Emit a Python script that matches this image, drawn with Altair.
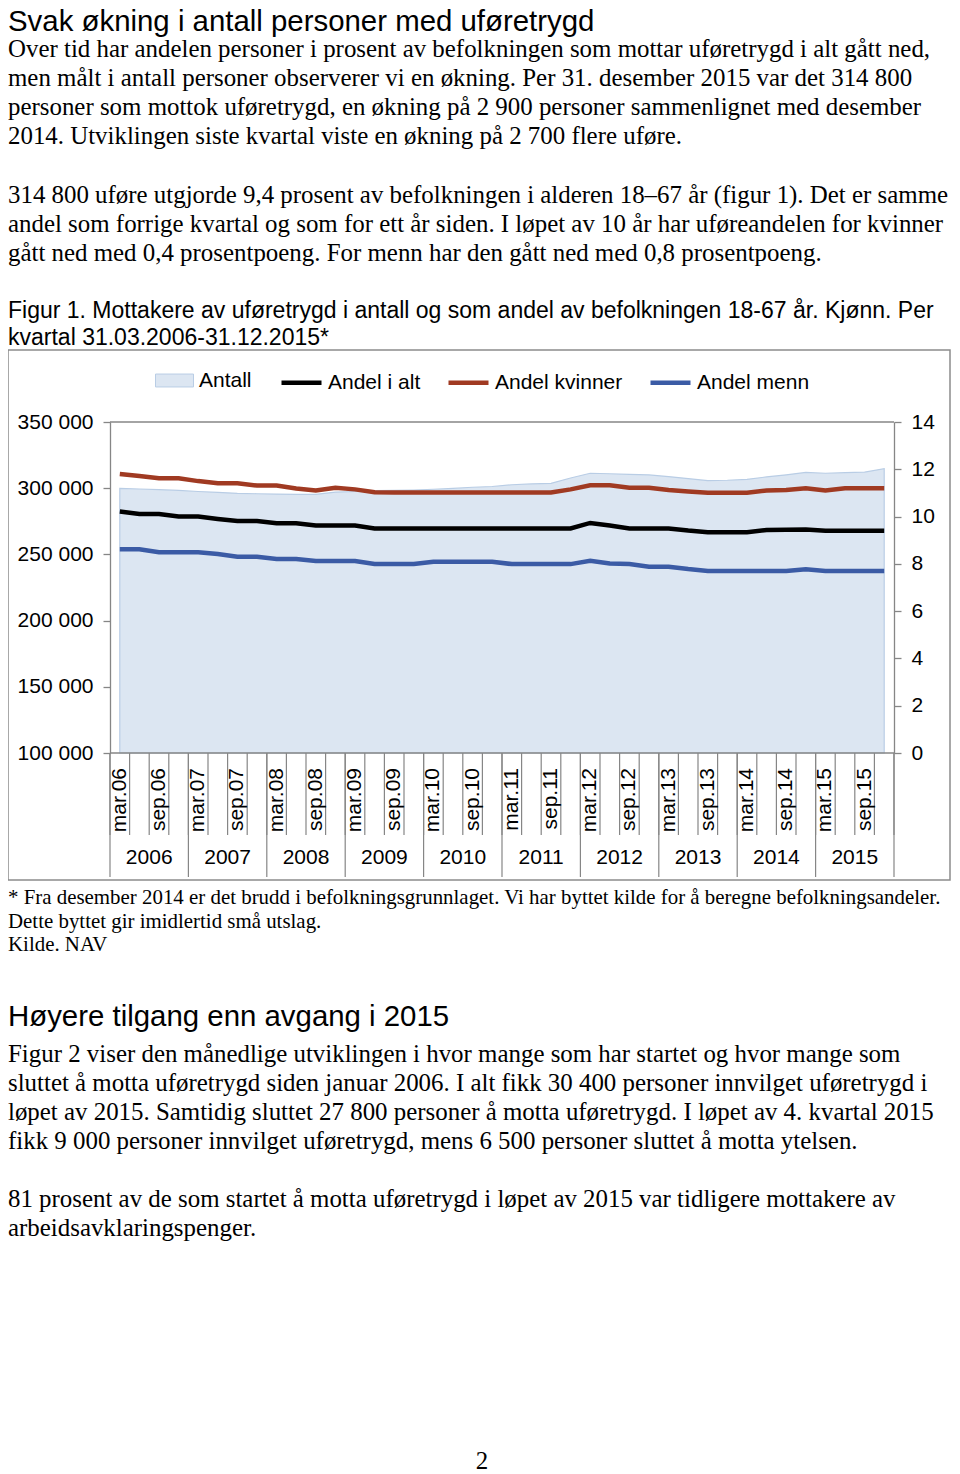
import altair as alt
import pandas as pd

# ---------------- data ----------------
years = ["2006", "2007", "2008", "2009", "2010", "2011", "2012", "2013", "2014", "2015"]
months = ["mar", "jun", "sep", "des"]
quarters = [f"{m}.{y[2:]}" for y in years for m in months]

antall = [299900, 299400, 298900, 298300, 297500, 296900, 296100, 295800, 295600, 295400,
          295400, 297100, 297500, 298100, 298300, 298600, 299200, 299800, 300700, 301300,
          302600, 303200, 303700, 307700, 311300, 310900, 310500, 310000, 308800, 307300,
          305700, 306000, 306700, 308500, 310100, 311900, 311300, 311700, 312100, 314800]

andel_alt = [10.21, 10.11, 10.11, 10.00, 10.00, 9.90, 9.81, 9.81, 9.72, 9.72,
             9.62, 9.62, 9.62, 9.50, 9.50, 9.50, 9.50, 9.50, 9.50, 9.50,
             9.50, 9.50, 9.50, 9.50, 9.73, 9.62, 9.50, 9.50, 9.50, 9.41,
             9.34, 9.34, 9.34, 9.43, 9.44, 9.45, 9.40, 9.40, 9.40, 9.40]

andel_kvinner = [11.80, 11.72, 11.62, 11.62, 11.50, 11.41, 11.41, 11.31, 11.31, 11.19,
                 11.10, 11.22, 11.15, 11.03, 11.02, 11.02, 11.02, 11.02, 11.02, 11.02,
                 11.02, 11.02, 11.02, 11.15, 11.32, 11.32, 11.22, 11.22, 11.12, 11.06,
                 11.01, 11.01, 11.01, 11.10, 11.12, 11.20, 11.10, 11.20, 11.20, 11.20]

andel_menn = [8.62, 8.62, 8.49, 8.49, 8.49, 8.42, 8.30, 8.30, 8.21, 8.21,
              8.12, 8.12, 8.12, 7.99, 7.99, 7.99, 8.09, 8.09, 8.09, 8.09,
              7.99, 7.99, 7.99, 7.99, 8.13, 8.02, 7.99, 7.88, 7.88, 7.78,
              7.70, 7.70, 7.70, 7.70, 7.70, 7.77, 7.70, 7.70, 7.70, 7.70]

series_names = ["Andel i alt", "Andel kvinner", "Andel menn"]
series_colors = ["#000000", "#a03a22", "#3b5ba5"]
left_ticks = [100000, 150000, 200000, 250000, 300000, 350000]
right_ticks = [0, 2, 4, 6, 8, 10, 12, 14]

# ---------------- texts ----------------
title1 = "Svak økning i antall personer med uføretrygd"
para1 = [
    "Over tid har andelen personer i prosent av befolkningen som mottar uføretrygd i alt gått ned,",
    "men målt i antall personer observerer vi en økning. Per 31. desember 2015 var det 314 800",
    "personer som mottok uføretrygd, en økning på 2 900 personer sammenlignet med desember",
    "2014. Utviklingen siste kvartal viste en økning på 2 700 flere uføre.",
]
para2 = [
    "314 800 uføre utgjorde 9,4 prosent av befolkningen i alderen 18–67 år (figur 1). Det er samme",
    "andel som forrige kvartal og som for ett år siden. I løpet av 10 år har uføreandelen for kvinner",
    "gått ned med 0,4 prosentpoeng. For menn har den gått ned med 0,8 prosentpoeng.",
]
caption = [
    "Figur 1. Mottakere av uføretrygd i antall og som andel av befolkningen 18-67 år. Kjønn. Per",
    "kvartal 31.03.2006-31.12.2015*",
]
footnote = [
    "* Fra desember 2014 er det brudd i befolkningsgrunnlaget. Vi har byttet kilde for å beregne befolkningsandeler.",
    "Dette byttet gir imidlertid små utslag.",
    "Kilde. NAV",
]
title2 = "Høyere tilgang enn avgang i 2015"
para3 = [
    "Figur 2 viser den månedlige utviklingen i hvor mange som har startet og hvor mange som",
    "sluttet å motta uføretrygd siden januar 2006. I alt fikk 30 400 personer innvilget uføretrygd i",
    "løpet av 2015. Samtidig sluttet 27 800 personer å motta uføretrygd. I løpet av 4. kvartal 2015",
    "fikk 9 000 personer innvilget uføretrygd, mens 6 500 personer sluttet å motta ytelsen.",
]
para4 = [
    "81 prosent av de som startet å motta uføretrygd i løpet av 2015 var tidligere mottakere av",
    "arbeidsavklaringspenger.",
]
page_no = "2"

# ---------------- tables ----------------
n = len(quarters)
df_area = pd.DataFrame({"q": list(range(n)), "antall": antall, "serie": ["Antall"] * n})
df_lines = pd.concat([
    pd.DataFrame({"q": list(range(n)), "verdi": vals, "serie": [name] * n})
    for name, vals in zip(series_names, [andel_alt, andel_kvinner, andel_menn])
])
boundaries = [k - 0.5 for k in range(n + 1)]
df_bound = pd.DataFrame({"b": boundaries})
df_ybound = pd.DataFrame({"b": boundaries[::4]})
df_qlab = pd.DataFrame({"q": [i for i in range(n) if months[i % 4] in ("mar", "sep")],
                        "lab": [quarters[i] for i in range(n) if months[i % 4] in ("mar", "sep")]})
df_ylab = pd.DataFrame({"c": [4 * j + 1.5 for j in range(len(years))], "lab": years})
df_frame = pd.DataFrame({"x0": [-0.5, -0.5], "x1": [n - 0.5, n - 0.5],
                         "yv": [left_ticks[0], left_ticks[-1]]})
dummy = pd.DataFrame({"k": [0]})

# ---------------- styling ----------------
SANS = "Liberation Sans"
SERIF = "Liberation Serif"
GRAY = "#868686"
W, H = 944, 1466
BODY = 24.9

XS = alt.Scale(domain=[-0.5, n - 0.5], range=[102, 886], nice=False, zero=False)
YL = alt.Scale(domain=[100000, 350000], range=[745, 414], nice=False, zero=False)
YR = alt.Scale(domain=[0, 14], range=[745, 414], nice=False, zero=False)


def text_block(lines, y, size, font, lh=None, x=0, align="left"):
    kw = dict(text=lines, align=align, baseline="alphabetic", font=font,
              fontSize=size, color="black")
    if lh is not None:
        kw["lineHeight"] = lh
    return alt.Chart(dummy).mark_text(**kw).encode(x=alt.value(x), y=alt.value(y))


box = alt.Chart(dummy).mark_rect(fill="white", fillOpacity=0, stroke="#8c8c8c",
                                 strokeWidth=1.5).encode(
    x=alt.value(0), x2=alt.value(942), y=alt.value(342), y2=alt.value(872))

area = alt.Chart(df_area).mark_area(stroke="#b9cde5", strokeWidth=1.2).encode(
    x=alt.X("q:Q", scale=XS, axis=None),
    y=alt.Y("antall:Q", scale=YL, stack=False,
            axis=alt.Axis(orient="left", offset=-102, values=left_ticks, title=None,
                          grid=False, domainColor=GRAY, tickColor=GRAY, domainWidth=1.3,
                          tickWidth=1.3, tickSize=7, labelPadding=10, labelFont=SANS,
                          labelFontSize=21, labelColor="black",
                          labelExpr="replace(format(datum.value, ','), ',', ' ')")),
    y2=alt.datum(100000),
    fill=alt.Fill("serie:N", scale=alt.Scale(domain=["Antall"], range=["#dce6f2"]),
                  legend=alt.Legend(orient="none", legendX=147, legendY=353,
                                    direction="horizontal", title=None, padding=0,
                                    symbolType="M-1,-0.34L1,-0.34L1,0.34L-1,0.34Z",
                                    symbolSize=1444, symbolStrokeColor="#b9cde5",
                                    symbolStrokeWidth=1, labelFont=SANS, labelFontSize=21,
                                    labelColor="black", labelOffset=5)),
)

frame = alt.Chart(df_frame).mark_rule(color=GRAY, strokeWidth=1.3).encode(
    x=alt.X("x0:Q", scale=XS, axis=None), x2="x1:Q",
    y=alt.Y("yv:Q", scale=YL, axis=None))

bticks = alt.Chart(df_bound).mark_rule(color=GRAY, strokeWidth=1.2).encode(
    x=alt.X("b:Q", scale=XS, axis=None), y=alt.value(745), y2=alt.value(827))
yticks = alt.Chart(df_ybound).mark_rule(color=GRAY, strokeWidth=1.2).encode(
    x=alt.X("b:Q", scale=XS, axis=None), y=alt.value(745), y2=alt.value(869))

lines = alt.Chart(df_lines).mark_line(strokeWidth=4.5).encode(
    x=alt.X("q:Q", scale=XS, axis=None),
    y=alt.Y("verdi:Q", scale=YR,
            axis=alt.Axis(orient="right", offset=886 - W, values=right_ticks, title=None,
                          grid=False, domainColor=GRAY, tickColor=GRAY, domainWidth=1.3,
                          tickWidth=1.3, tickSize=7, labelPadding=10, labelFont=SANS,
                          labelFontSize=21, labelColor="black", format="d")),
    stroke=alt.Stroke("serie:N", scale=alt.Scale(domain=series_names, range=series_colors),
                      legend=alt.Legend(orient="none", legendX=271, legendY=352,
                                        direction="horizontal", title=None, padding=0,
                                        symbolType="stroke", symbolSize=1600,
                                        symbolStrokeWidth=4.5, columnPadding=18,
                                        labelFont=SANS, labelFontSize=21,
                                        labelColor="black", labelOffset=4)),
)

qlabels = alt.Chart(df_qlab).mark_text(angle=270, align="right", baseline="middle",
                                       font=SANS, fontSize=21, color="black").encode(
    x=alt.X("q:Q", scale=XS, axis=None), y=alt.value(760), text="lab:N")
ylabels = alt.Chart(df_ylab).mark_text(align="center", baseline="middle",
                                       font=SANS, fontSize=21, color="black").encode(
    x=alt.X("c:Q", scale=XS, axis=None), y=alt.value(850), text="lab:N")

texts = [
    text_block([title1], 23, 29.4, SANS),
    text_block(para1, 49, BODY, SERIF, 29),
    text_block(para2, 195, BODY, SERIF, 29),
    text_block(caption, 310, 23, SANS, 27),
    text_block(footnote, 896, 20.9, SERIF, 23.5),
    text_block([title2], 1018, 29.4, SANS),
    text_block(para3, 1054, BODY, SERIF, 29),
    text_block(para4, 1199, BODY, SERIF, 29),
    text_block([page_no], 1461, BODY, SERIF, x=474, align="center"),
]

chart = alt.layer(box, area, frame, bticks, yticks, lines, qlabels, ylabels, *texts).resolve_scale(
    y="independent"
).properties(
    width=W, height=H, padding=0, background="white",
    autosize=alt.AutoSizeParams(type="none"),
).configure_view(stroke=None)

chart.save("out.html", embed_options={"renderer": "svg", "actions": False})
